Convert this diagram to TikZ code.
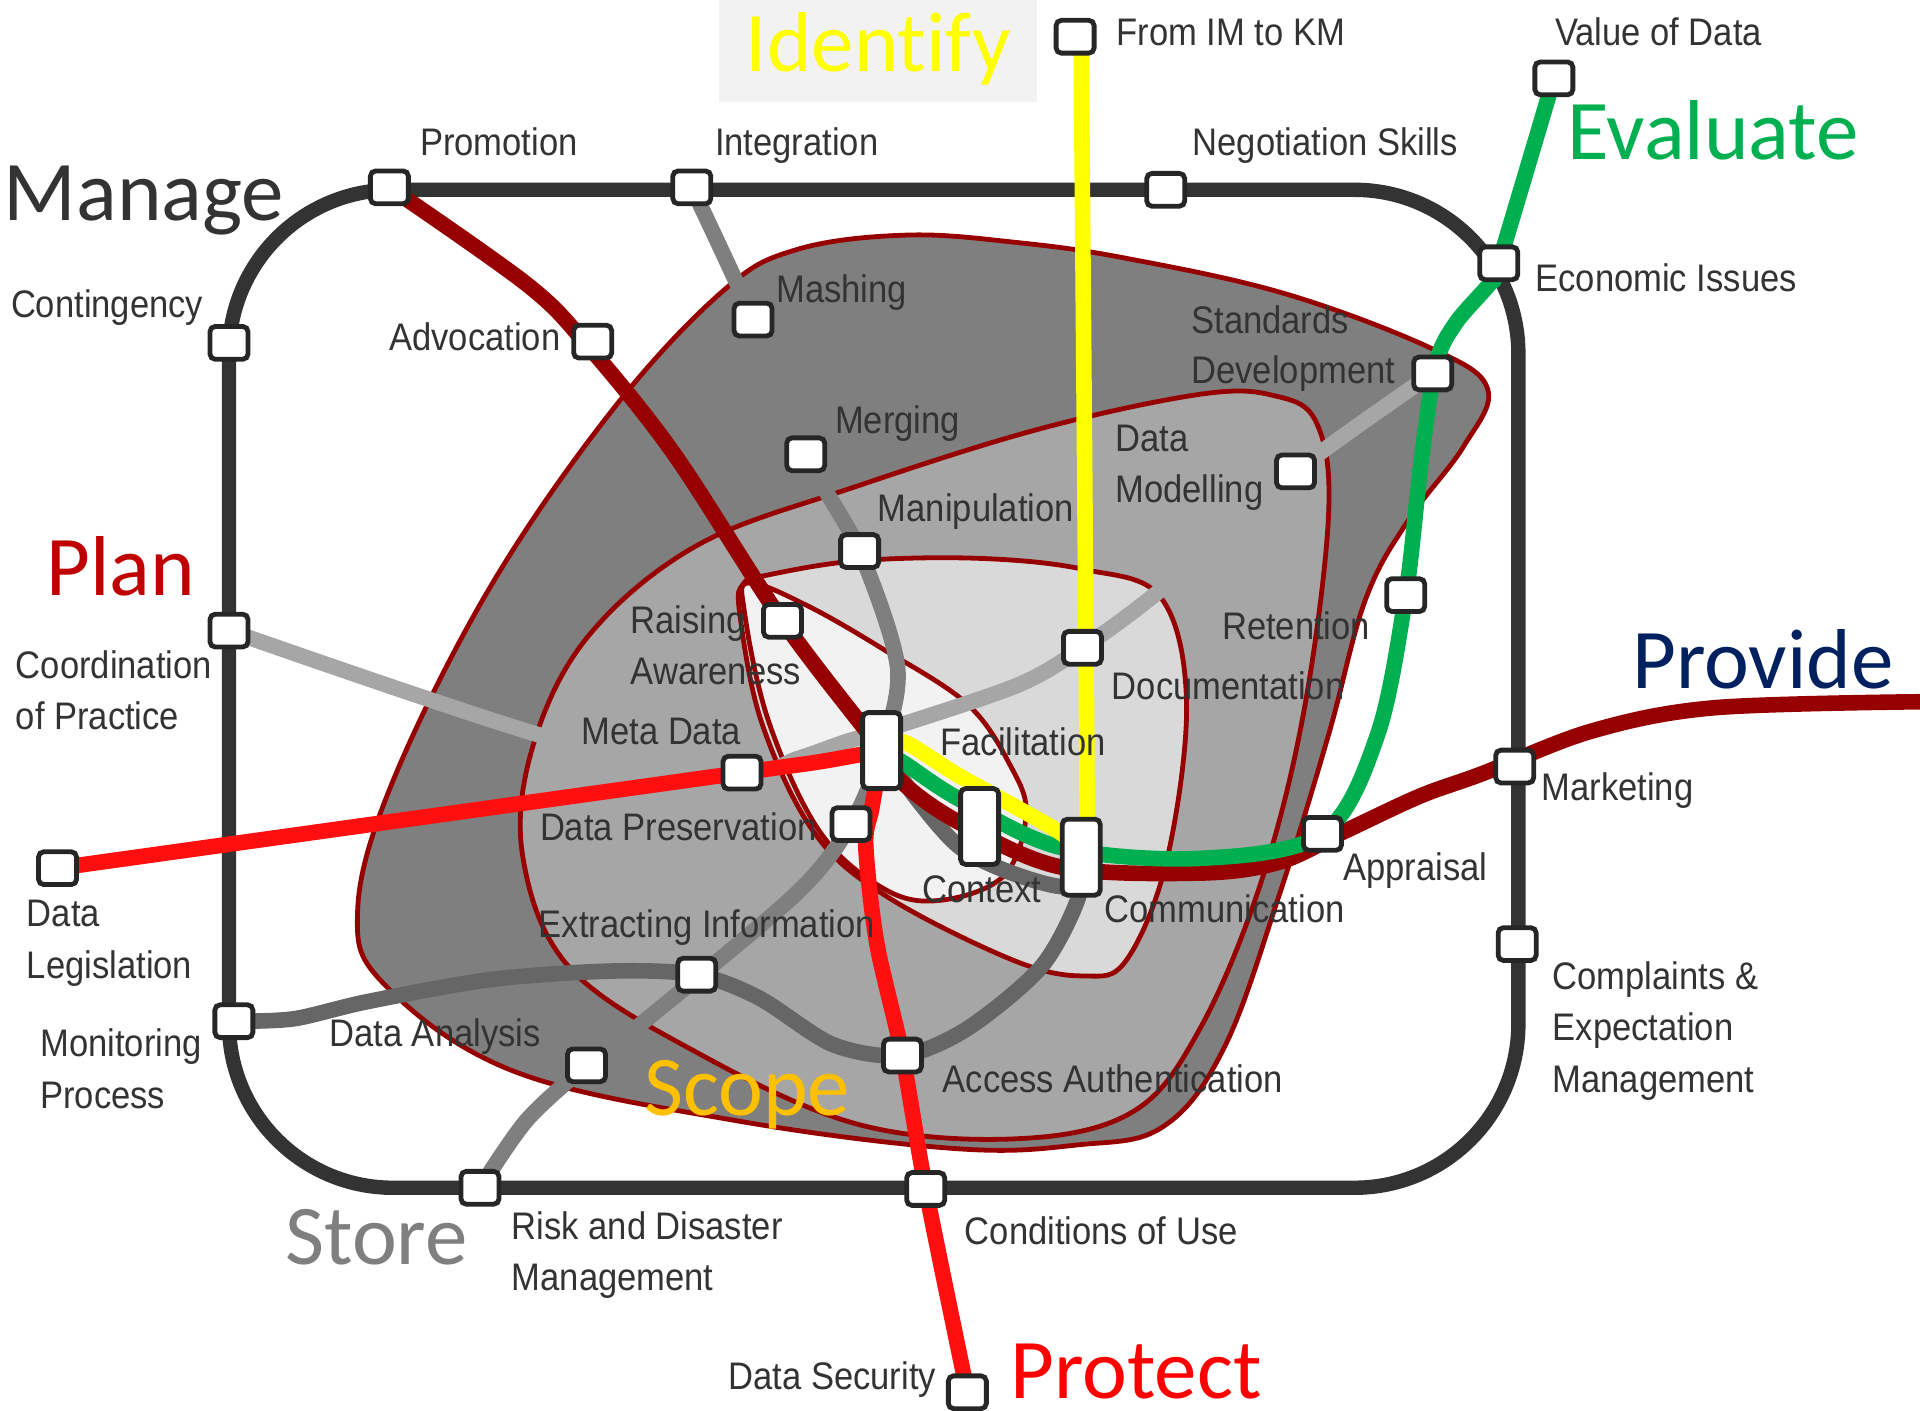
\documentclass[tikz,border=0pt]{standalone}
\usepackage{fontspec}
\setmainfont[FakeStretch=0.9]{Liberation Sans}
\newfontfamily\bigfont[Ligatures=NoCommon]{Carlito}
\pgfdeclarelayer{blobs}
\pgfdeclarelayer{lines}
\pgfsetlayers{blobs,lines,main}
\definecolor{darkred}{HTML}{960000}
\definecolor{track}{HTML}{333333}
\definecolor{planred}{HTML}{FF0F0F}
\definecolor{evalgreen}{HTML}{00B050}
\definecolor{storegray}{HTML}{7F7F7F}
\definecolor{metagray}{HTML}{A6A6A6}
\definecolor{accessgray}{HTML}{666666}
\definecolor{plantext}{HTML}{C00000}
\definecolor{providetext}{HTML}{002060}
\definecolor{scopetext}{HTML}{FFC000}
\definecolor{idyellow}{HTML}{FFFF00}
\definecolor{palegray}{HTML}{F2F2F2}
\definecolor{softgray}{HTML}{D9D9D9}
\tikzset{
  blob/.style={draw=darkred,line width=2.4pt,line join=round},
  metro/.style={line width=7.8pt,line join=round},
  stn/.style={draw=black!85,fill=white,rounded corners=2.6pt,line width=2.4pt,minimum width=19pt,minimum height=16.4pt,inner sep=0pt,outer sep=0pt},
  hub/.style={stn,minimum height=38pt},
  lab/.style={anchor=base west,inner sep=0pt,outer sep=0pt,text=track,font=\fontsize{19.2}{21}\selectfont},
  big/.style={anchor=base west,inner sep=0pt,outer sep=0pt,font=\bigfont\fontsize{42.5}{46}\selectfont},
}
\begin{document}
\begin{tikzpicture}[x=0.6122pt,y=-0.6122pt]
\useasboundingbox (0,0) rectangle (1568,1152.3);

% stations
\node[stn] (promotion) at (318,153) {};
\node[stn] (integration) at (565,153) {};
\node[stn] (negotiation) at (952,155) {};
\node[stn] (fromim) at (878,30) {};
\node[stn] (valuedata) at (1269,64) {};
\node[stn] (economic) at (1224,215) {};
\node[stn] (contingency) at (187,280) {};
\node[stn] (advocation) at (484,279) {};
\node[stn] (mashing) at (615,261) {};
\node[stn] (standards) at (1170,305) {};
\node[stn] (merging) at (658,371) {};
\node[stn] (modelling) at (1058,385) {};
\node[stn] (manipulation) at (702,450) {};
\node[stn] (raising) at (639,507) {};
\node[stn] (documentation) at (884,529) {};
\node[stn] (retention) at (1148,486) {};
\node[stn] (coordination) at (187,515) {};
\node[stn] (metadata) at (606,631) {};
\node[stn] (marketing) at (1237,626) {};
\node[stn] (legislation) at (47,709) {};
\node[stn] (preservation) at (695,673) {};
\node[stn] (appraisal) at (1080,681) {};
\node[stn] (complaints) at (1239,771) {};
\node[stn] (extracting) at (569,796) {};
\node[stn] (monitoring) at (191,834) {};
\node[stn] (access) at (737,862) {};
\node[stn] (analysis) at (479,870) {};
\node[stn] (risk) at (392,970) {};
\node[stn] (conditions) at (756,971) {};
\node[stn] (security) at (790,1137) {};
\node[hub] (facilitation) at (720,613) {};
\node[hub] (context) at (800,675) {};
\node[hub] (communication) at (883,700) {};
\coordinate (provideend) at (1575,573);
\coordinate (yellowtop) at (883,40);
\coordinate (yellowmid) at (887,529);
\coordinate (yellowlow) at (888,690);

\begin{pgfonlayer}{blobs}
\fill[palegray] (587,0) rectangle (847,83);
\draw[blob,fill=storegray] plot[smooth cycle,tension=0.62] coordinates {
 (650,204) (740,192) (830,198) (920,211) (1050,240) (1170,285) (1215,318) (1195,365) (1150,425)
 (1115,490) (1085,600) (1045,730) (1000,855) (950,920) (880,935) (780,938) (600,915)
 (420,875) (315,805) (292,745) (320,640) (400,480) (500,335) (590,238)};
\draw[blob,fill=metagray] plot[smooth cycle,tension=0.6] coordinates {
 (1040,323) (980,322) (850,350) (700,397) (570,445) (480,520) (435,610) (427,700) (465,790)
 (570,860) (700,918) (830,930) (925,908) (980,840) (1030,720) (1065,580) (1085,420) (1075,345)};
\draw[blob,fill=softgray] plot[smooth cycle,tension=0.6] coordinates {
 (625,470) (700,458) (800,456) (885,465) (948,488) (969,574) (953,702) (920,784) (885,797)
 (827,784) (724,732) (665,680) (622,590) (604,500) (607,477)};
\draw[blob,fill=palegray] plot[smooth cycle,tension=0.6] coordinates {
 (612,476) (660,495) (721,530) (790,575) (825,625) (838,665) (820,715) (770,735) (724,727) (670,680)
 (628,590) (608,500)};
\end{pgfonlayer}

\begin{pgfonlayer}{lines}
% Manage loop
\draw[line width=7.2pt,track,rounded corners=82pt] (187,155) rectangle (1240,970);
% Store
\draw[metro,storegray] plot[smooth,tension=0.5] coordinates {
 (integration.center) (mashing.center) (merging.center) (manipulation.center) (733,545) (facilitation.center)
 (preservation.center) (650,730) (525,835) (analysis.center) (430,915) (risk.center)};
% Meta data line
\draw[metro,metagray] plot[smooth,tension=0.5] coordinates {
 (coordination.center) (450,603) (metadata.center) (650,620) (690,606) (720,597) (830,560)
 (documentation.center) (950,480) (modelling.center) (standards.center)};
% Access line
\draw[metro,accessgray] plot[smooth,tension=0.5] coordinates {
 (monitoring.center) (240,832) (300,818) (400,800) (500,793) (extracting.center) (620,815) (680,853) (access.center)
 (790,840) (850,790) (880,735) (communication.center)};
\draw[metro,accessgray] plot[smooth,tension=0.5] coordinates {
 (facilitation.center) (784,692) (866,724) (communication.center)};
% Plan / Protect
\draw[metro,planred] plot[smooth,tension=0.4] coordinates {
 (legislation.center) (metadata.center) (670,622) (facilitation.center)};
\draw[metro,planred] plot[smooth,tension=0.5] coordinates {
 (facilitation.center) (712,660) (707,690) (716,770) (access.center) (conditions.center) (security.center)};
% Advocate / provide
\draw[metro,darkred] plot[smooth,tension=0.55] coordinates {
 (promotion.center) (430,232) (478,280) (550,370) (raising.center) (facilitation.center)
 (738,640) (784,672) (866,708) (980,713) (1045,704) (1100,678) (1160,650) (1210,632)
 (1300,597) (1400,578) (provideend)};
% Evaluate
\draw[metro,evalgreen] plot[smooth,tension=0.55] coordinates {
 (facilitation.center) (738,623) (784,653) (866,692) (980,701) (appraisal.center) (1125,600)
 (retention.center) (1160,382) (1172,300) (1188,265) (1218,230) (economic.center) (valuedata.center)};
% Identify
\draw[metro,idyellow] (yellowtop) -- (yellowmid) -- (yellowlow);
\draw[metro,idyellow] plot[smooth,tension=0.5] coordinates {
 (facilitation.center) (738,606) (784,634) (866,680) (communication.center)};
\end{pgfonlayer}

% labels
\node[lab] (t1) at (343,127) {Promotion};
\node[lab] (t2) at (584,127) {Integration};
\node[lab] (t3) at (974,127) {Negotiation Skills};
\node[lab] (t4) at (912,37) {From IM to KM};
\node[lab] (t5) at (1270,37) {Value of Data};
\node[lab] (t6) at (1254,238) {Economic Issues};
\node[lab] (t7) at (9,259) {Contingency};
\node[lab] (t8) at (318,286) {Advocation};
\node[lab] (t9) at (634,247) {Mashing};
\node[lab] (t10) at (973,272) {Standards};
\node[lab] (t11) at (973,313) {Development};
\node[lab] (t12) at (682,354) {Merging};
\node[lab] (t13) at (911,369) {Data};
\node[lab] (t14) at (911,410) {Modelling};
\node[lab] (t15) at (717,426) {Manipulation};
\node[lab] (t16) at (515,517) {Raising};
\node[lab] (t17) at (515,559) {Awareness};
\node[lab] (t18) at (998,522) {Retention};
\node[lab] (t19) at (908,571) {Documentation};
\node[lab] (t20) at (13,554) {Coordination};
\node[lab] (t21) at (13,596) {of Practice};
\node[lab] (t22) at (475,608) {Meta Data};
\node[lab] (t23) at (768,617) {Facilitation};
\node[lab] (t24) at (1259,654) {Marketing};
\node[lab] (t25) at (441,686) {Data Preservation};
\node[lab] (t26) at (1097,719) {Appraisal};
\node[lab] (t27) at (753,737) {Context};
\node[lab] (t28) at (902,753) {Communication};
\node[lab] (t29) at (440,766) {Extracting Information};
\node[lab] (t30) at (22,757) {Data};
\node[lab] (t31) at (22,799) {Legislation};
\node[lab] (t32) at (1268,808) {Complaints \&};
\node[lab] (t33) at (1268,850) {Expectation};
\node[lab] (t34) at (1268,892) {Management};
\node[lab] (t35) at (33,863) {Monitoring};
\node[lab] (t36) at (33,905) {Process};
\node[lab] (t37) at (269,855) {Data Analysis};
\node[lab] (t38) at (770,892) {Access Authentication};
\node[lab] (t39) at (418,1012) {Risk and Disaster};
\node[lab] (t40) at (418,1054) {Management};
\node[lab] (t41) at (788,1016) {Conditions of Use};
\node[lab] (t42) at (595,1135) {Data Security};

\node[big,text=idyellow] (b1) at (609,58) {Identify};
\node[big,text=track] (b2) at (3,180) {Manage};
\node[big,text=plantext] (b3) at (38,486) {Plan};
\node[big,text=providetext] (b4) at (1333,562) {Provide};
\node[big,text=evalgreen] (b5) at (1280,130) {Evaluate};
\node[big,text=red] (b6) at (825,1142) {Protect};
\node[big,text=storegray] (b7) at (233,1033) {Store};
\node[big,text=scopetext] (b8) at (526,911) {Scope};
\end{tikzpicture}
\end{document}
